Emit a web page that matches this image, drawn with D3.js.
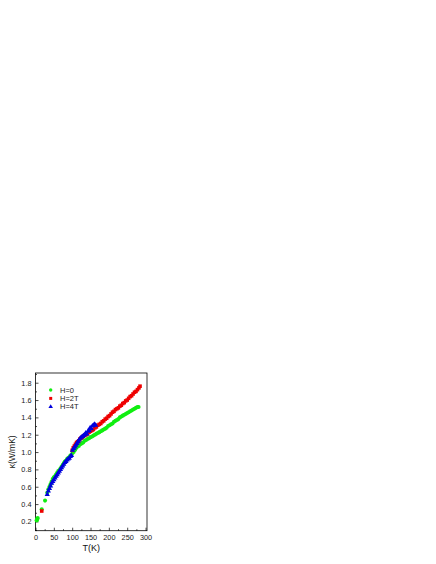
<!DOCTYPE html>
<html><head><meta charset="utf-8">
<script src="https://cdn.jsdelivr.net/npm/d3@7"></script>
<style>body{margin:0;background:#fff;}svg{display:block;font-family:"Liberation Sans",Arial,sans-serif;}</style>
</head><body>
<script>
// H=0 (green circles)
const h0T = [3,4,5,6,17,26,32,35,38,41,44,47,50,53,56,59,62,65,68,71,74,77,80,83,86,89,92,95,98,101,104,107,110,114,118,122,126,130,134,138,142,146,150,154,158,162,166,170,174,178,182,186,190,194,198,202,206,210,214,218,222,226,230,234,238,242,246,250,254,258,262,266,270,274,278,281];
const h0K = [0.21,0.22,0.23,0.24,0.34,0.44,0.53,0.57,0.60,0.63,0.66,0.69,0.71,0.72,0.74,0.76,0.78,0.79,0.81,0.83,0.85,0.87,0.89,0.90,0.92,0.93,0.94,0.96,0.97,0.99,1.00,1.02,1.04,1.06,1.07,1.09,1.10,1.11,1.13,1.14,1.15,1.16,1.17,1.18,1.19,1.20,1.21,1.22,1.23,1.24,1.25,1.26,1.27,1.28,1.30,1.31,1.32,1.33,1.35,1.36,1.37,1.38,1.40,1.41,1.42,1.43,1.44,1.45,1.46,1.47,1.48,1.49,1.50,1.51,1.52,1.52];
// H=2T (red squares)
const h2T = [17,100,103,106,109,112,115,118,121,124,127,130,134,138,142,146,150,154,158,162,166,170,174,178,182,186,190,194,198,202,206,210,214,218,222,226,230,234,238,242,246,250,254,258,262,266,270,274,278,282,285];
const h2K = [0.32,1.02,1.05,1.07,1.09,1.11,1.12,1.13,1.15,1.16,1.17,1.18,1.19,1.20,1.21,1.23,1.24,1.25,1.26,1.28,1.29,1.31,1.32,1.33,1.35,1.36,1.38,1.39,1.41,1.42,1.44,1.46,1.47,1.49,1.50,1.51,1.53,1.54,1.56,1.57,1.59,1.60,1.62,1.64,1.65,1.67,1.69,1.70,1.72,1.74,1.76];
// H=4T (blue triangles)
const h4T = [32,35,38,41,44,47,50,53,56,59,62,65,68,71,74,77,80,83,86,89,92,95,98,101,104,107,110,113,116,119,122,125,128,131,134,137,140,143,146,149,152,155,158,161,164];
const h4K = [0.51,0.55,0.58,0.61,0.64,0.66,0.68,0.70,0.72,0.74,0.76,0.78,0.80,0.82,0.84,0.86,0.88,0.89,0.91,0.92,0.93,0.95,0.96,1.02,1.04,1.06,1.08,1.10,1.12,1.14,1.16,1.17,1.18,1.19,1.20,1.22,1.21,1.24,1.25,1.28,1.27,1.30,1.31,1.32,1.31];
const xTicks = [0,50,100,150,200,250,300];
const yTicks = [0.2,0.4,0.6,0.8,1.0,1.2,1.4,1.6,1.8];
const legendLabels = ["H=0","H=2T","H=4T"];
const colors = ["#11ee11","#ee0000","#0000dd"];

const W=436,H=564;
const svg=d3.select("body").append("svg").attr("width",W).attr("height",H);
const L=35.5,R=147,T=373,B=530.7;
const x=d3.scaleLinear().domain([0,304]).range([L,R]);
const y=d3.scaleLinear().domain([0.093,1.912]).range([B,T]);

svg.append("rect").attr("x",L).attr("y",T).attr("width",R-L).attr("height",B-T)
  .attr("fill","none").attr("stroke","#000").attr("stroke-width",0.8);

const fmtY=d3.format(".1f");
const bottomAx=d3.axisBottom(x).tickValues(xTicks).tickSize(-3).tickPadding(4).tickFormat(d3.format("d"));
const gx=svg.append("g").attr("transform",`translate(0,${B})`).call(bottomAx);
const gxm=svg.append("g").attr("transform",`translate(0,${B})`).call(d3.axisBottom(x).tickValues(d3.range(25,300,50)).tickSize(-1.5).tickFormat(""));
const leftAx=d3.axisLeft(y).tickValues(yTicks).tickSize(-3).tickPadding(4).tickFormat(fmtY);
const gy=svg.append("g").attr("transform",`translate(${L},0)`).call(leftAx);
const gym=svg.append("g").attr("transform",`translate(${L},0)`).call(d3.axisLeft(y).tickValues(d3.range(0.1,1.91,0.2)).tickSize(-1.5).tickFormat(""));
[gx,gxm,gy,gym].forEach(g=>{g.select(".domain").remove();g.selectAll("line").attr("stroke","#000").attr("stroke-width",0.7);g.selectAll("text").attr("font-size",7.3).attr("fill","#222").attr("font-family","Liberation Sans, Arial, sans-serif");});

svg.append("text").attr("x",(L+R)/2).attr("y",551).attr("text-anchor","middle").attr("font-size",9).attr("fill","#111").text("T(K)");
svg.append("text").attr("transform",`translate(15,${(T+B)/2}) rotate(-90)`).attr("text-anchor","middle").attr("font-size",8.5).attr("fill","#111").text("κ(W/mK)");

const sym=[d3.symbolCircle,d3.symbolSquare,d3.symbolTriangle];
const sizes=[13,13,12];
const series=[[h0T,h0K],[h2T,h2K],[h4T,h4K]];
series.forEach((s,i)=>{
  const g=svg.append("g");
  g.selectAll("path").data(s[0].map((t,j)=>[t,s[1][j]])).join("path")
    .attr("transform",d=>`translate(${x(d[0])},${y(d[1])})`)
    .attr("d",d3.symbol().type(sym[i]).size(sizes[i])).attr("fill",colors[i]);
});

const leg=svg.append("g");
legendLabels.forEach((lab,i)=>{
  const yy=390+i*8.4;
  leg.append("path").attr("transform",`translate(50.7,${yy})`).attr("d",d3.symbol().type(sym[i]).size(9)).attr("fill",colors[i]);
  leg.append("text").attr("x",60).attr("y",yy+2.6).attr("font-size",7.5).attr("fill","#222").text(lab);
});
</script>
</body></html>
